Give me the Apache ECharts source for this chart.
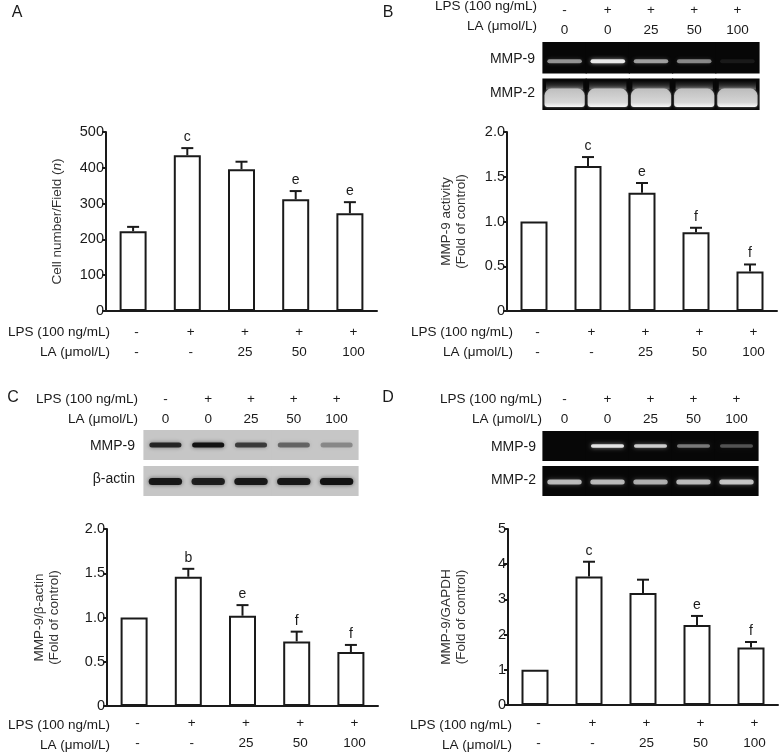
<!DOCTYPE html>
<html><head><meta charset="utf-8">
<script src="https://cdn.jsdelivr.net/npm/echarts@6/dist/echarts.min.js"></script>
<style>html,body{margin:0;padding:0;background:#fff}#c{width:781px;height:753px}</style>
</head><body><div id="c"></div>
<script>
// ---------- data ----------
const lpsSigns = ['-', '+', '+', '+', '+'];
const laChart = ['-', '-', '25', '50', '100'];
const laGel = ['0', '0', '25', '50', '100'];
const gelRowsB = ['MMP-9', 'MMP-2'];
const gelRowsC = ['MMP-9', 'β-actin'];
const gelRowsD = ['MMP-9', 'MMP-2'];

const cellMeans = [223, 435, 396, 312, 273];
const cellErrs = [12, 20, 21, 23, 31];
const cellLetters = ['', 'c', '', 'e', 'e'];
const cellAxis = [0, 500, 100];

const zymoMeans = [1.0, 1.62, 1.32, 0.88, 0.44];
const zymoErrs = [0, 0.10, 0.11, 0.05, 0.08];
const zymoLetters = ['', 'c', 'e', 'f', 'f'];
const foldAxis = [0, 2, 0.5];

const westMeans = [1.0, 1.46, 1.02, 0.73, 0.61];
const westErrs = [0, 0.09, 0.12, 0.11, 0.08];
const westLetters = ['', 'b', 'e', 'f', 'f'];

const pcrMeans = [1.0, 3.65, 3.18, 2.27, 1.63];
const pcrErrs = [0, 0.42, 0.38, 0.26, 0.16];
const pcrLetters = ['', 'c', '', 'e', 'f'];
const pcrAxis = [0, 5, 1];

// band intensities (0..1) per lane
const bandB9 = [0.55, 0.95, 0.6, 0.5, 0.08];
const bandB2 = [0.9, 0.92, 0.9, 0.9, 0.88];
const bandC9 = [0.85, 1.0, 0.72, 0.5, 0.32];
const bandCa = [0.95, 0.9, 0.95, 0.95, 1.0];
const bandD9 = [0, 0.92, 0.8, 0.45, 0.3];
const bandD2 = [0.7, 0.7, 0.65, 0.7, 0.75];

// ---------- helpers ----------
const FONT = 'Liberation Sans, Arial, sans-serif';
const INK = '#1a1a1a';
const xAxes = [], yAxes = [], grids = [], series = [], graphics = [];

function rowLabel(x, y, text) {
  graphics.push({type: 'text', silent: true, style: {text, x, y, align: 'right', verticalAlign: 'middle', fontSize: 13.5, fontFamily: FONT, fill: INK}});
}

function errRender(letters) {
  return function (params, api) {
    const i = api.value(0), m = api.value(1), e = api.value(2);
    const pb = api.coord([i, m]);
    const pt = api.coord([i, m + e]);
    const ch = [];
    if (e > 0) {
      ch.push({type: 'line', shape: {x1: pb[0], y1: pb[1], x2: pt[0], y2: pt[1]}, style: {stroke: INK, lineWidth: 2}});
      ch.push({type: 'line', shape: {x1: pt[0] - 6, y1: pt[1], x2: pt[0] + 6, y2: pt[1]}, style: {stroke: INK, lineWidth: 2}});
    }
    const L = letters[params.dataIndex];
    if (L) ch.push({type: 'text', style: {text: L, x: pt[0], y: pt[1] - 11, align: 'center', verticalAlign: 'middle', fontSize: 14, fontFamily: FONT, fill: INK}});
    return {type: 'group', children: ch};
  };
}

function addChart(cfg) {
  const gi = grids.length;
  grids.push(Object.assign({containLabel: false}, cfg.grid));
  const xi = xAxes.length, yi = yAxes.length;
  xAxes.push({
    type: 'category', gridIndex: gi,
    data: lpsSigns.map((s, i) => s + '\n' + laChart[i]),
    axisLine: {lineStyle: {color: INK, width: 2}},
    axisTick: {alignWithLabel: true, length: 5, lineStyle: {color: INK, width: 2}},
    axisLabel: {interval: 0, fontSize: 13.5, lineHeight: 20, margin: cfg.labelMargin, color: INK, fontFamily: FONT, padding: [0, 0, 0, 7]}
  });
  yAxes.push({
    type: 'value', gridIndex: gi, min: cfg.axis[0], max: cfg.axis[1], interval: cfg.axis[2],
    axisLine: {show: true, lineStyle: {color: INK, width: 2}},
    axisTick: {show: true, length: 4, lineStyle: {color: INK, width: 2}},
    splitLine: {show: false},
    axisLabel: {fontSize: 14.5, color: INK, margin: 2, fontFamily: FONT,
      formatter: v => (v === 0 ? '0' : (cfg.decimals ? v.toFixed(cfg.decimals) : String(v)))},
    name: cfg.name, nameLocation: 'middle', nameRotate: 90, nameGap: cfg.nameGap,
    nameTextStyle: {fontSize: 13.5, color: '#333', lineHeight: 15, fontFamily: FONT,
      rich: {it: {fontStyle: 'italic', fontSize: 13.5, color: '#333', fontFamily: FONT}}}
  });
  series.push({
    type: 'bar', xAxisIndex: xi, yAxisIndex: yi, data: cfg.means, barWidth: 27, silent: true,
    itemStyle: {color: '#fff', borderColor: INK, borderWidth: 2}, z: 2
  });
  series.push({
    type: 'custom', xAxisIndex: xi, yAxisIndex: yi, silent: true, z: 3,
    data: cfg.means.map((m, i) => [i, m, cfg.errs[i]]),
    encode: {x: 0, y: 1},
    renderItem: errRender(cfg.letters)
  });
  rowLabel(cfg.rowX, cfg.rowY[0], 'LPS (100 ng/mL)');
  rowLabel(cfg.rowX, cfg.rowY[1], 'LA (μmol/L)');
}

function gelRender(cfg) {
  return function (params, api) {
    const lane = api.value(0), row = api.value(1), v = api.value(2);
    const c = api.coord([lane, row]);
    const sz = api.size([1, 1]);
    const w = sz[0], h = sz[1];
    let top = c[1] - h / 2, bot = c[1] + h / 2;
    if (row === 0) bot -= cfg.gap / 2; else top += cfg.gap / 2;
    const ch = [{type: 'rect', shape: {x: c[0] - w / 2 - 0.6, y: top, width: w + 1.2, height: bot - top}, style: {fill: cfg.bg}}];
    const rs = cfg.rows[row];
    const cy = (top + bot) / 2 + rs.dy;
    if (rs.kind === 'blob') {
      const bt = top + (bot - top) * 0.32, bb = bot - 3;
      ch.push({type: 'rect', shape: {x: c[0] - w / 2 + 3, y: top + 2, width: w - 6, height: bt - top - 1},
        style: {fill: new echarts.graphic.LinearGradient(0, 0, 0, 1, [{offset: 0, color: 'rgba(80,80,80,0)'}, {offset: 1, color: 'rgba(140,140,140,0.7)'}])}});
      ch.push({type: 'rect', shape: {x: c[0] - w / 2 + 1.5, y: bt, width: w - 3, height: bb - bt, r: [7, 7, 3, 3]},
        style: {fill: new echarts.graphic.LinearGradient(0, 0, 0, 1, [
          {offset: 0, color: 'rgba(200,200,200,' + v + ')'},
          {offset: 0.75, color: 'rgba(226,226,226,' + v + ')'},
          {offset: 1, color: 'rgba(250,250,250,1)'}]),
          shadowBlur: 3, shadowColor: 'rgba(200,200,200,0.6)'}});
    } else if (v > 0) {
      const bw = w * rs.bw, bh = rs.bh;
      const col = cfg.light ? 'rgba(242,242,242,' + v + ')' : 'rgba(18,18,18,' + v + ')';
      const sh = cfg.light ? 'rgba(200,200,200,' + (v * 0.8) + ')' : 'rgba(40,40,40,' + (v * 0.7) + ')';
      ch.push({type: 'rect', shape: {x: c[0] - bw / 2, y: cy - bh / 2, width: bw, height: bh, r: bh / 2},
        style: {fill: col, shadowBlur: 4, shadowColor: sh}});
    }
    return {type: 'group', children: ch};
  };
}

function addGel(cfg) {
  const gi = grids.length;
  grids.push(Object.assign({containLabel: false}, cfg.grid));
  const xi = xAxes.length, yi = yAxes.length;
  xAxes.push({
    type: 'category', gridIndex: gi, position: 'top',
    data: lpsSigns.map((s, i) => s + '\n' + laGel[i]),
    axisLine: {show: false}, axisTick: {show: false},
    axisLabel: {interval: 0, fontSize: 13.5, lineHeight: 20, margin: cfg.headMargin, color: INK, fontFamily: FONT}
  });
  yAxes.push({
    type: 'category', gridIndex: gi, inverse: true, data: cfg.rowNames,
    axisLine: {show: false}, axisTick: {show: false}, splitLine: {show: false},
    axisLabel: {fontSize: 14, color: INK, margin: cfg.nameMargin, fontFamily: FONT}
  });
  const data = [];
  cfg.bands.forEach((arr, r) => arr.forEach((v, l) => data.push([l, r, v])));
  series.push({
    type: 'custom', xAxisIndex: xi, yAxisIndex: yi, silent: true, data,
    encode: {x: 0, y: 1}, renderItem: gelRender(cfg)
  });
  rowLabel(cfg.headX, cfg.headY[0], 'LPS (100 ng/mL)');
  rowLabel(cfg.headX, cfg.headY[1], 'LA (μmol/L)');
}

// ---------- panel A ----------
addChart({grid: {left: 106, top: 132, width: 271, height: 179}, axis: cellAxis, decimals: 0,
  means: cellMeans, errs: cellErrs, letters: cellLetters, labelMargin: 11,
  name: 'Cell number/Field ({it|n})', nameGap: 41, rowX: 110, rowY: [332, 352]});

// ---------- panel B ----------
addGel({grid: {left: 543, top: 38, width: 216, height: 72}, rowNames: gelRowsB, gap: 5, bg: '#070707', light: true,
  bands: [bandB9, bandB2], rows: [{kind: 'band', dy: 3.5, bh: 4, bw: 0.8}, {kind: 'blob', dy: 0}],
  headMargin: 2, nameMargin: 8, headX: 537, headY: [6, 26]});
addChart({grid: {left: 507, top: 132, width: 270, height: 179}, axis: foldAxis, decimals: 1,
  means: zymoMeans, errs: zymoErrs, letters: zymoLetters, labelMargin: 11,
  name: 'MMP-9 activity\n(Fold of control)', nameGap: 38, rowX: 513, rowY: [332, 352]});

// ---------- panel C ----------
addGel({grid: {left: 144, top: 430, width: 214, height: 66}, rowNames: gelRowsC, gap: 6, bg: '#c6c6c6', light: false,
  bands: [bandC9, bandCa], rows: [{kind: 'band', dy: 0, bh: 5, bw: 0.75}, {kind: 'band', dy: 0.5, bh: 7, bw: 0.78}],
  headMargin: 1, nameMargin: 9, headX: 138, headY: [399, 419]});
addChart({grid: {left: 107, top: 529, width: 271, height: 179}, axis: foldAxis, decimals: 1,
  means: westMeans, errs: westErrs, letters: westLetters, labelMargin: 7,
  name: 'MMP-9/β-actin\n(Fold of control)', nameGap: 45, rowX: 110, rowY: [725, 745]});

// ---------- panel D ----------
addGel({grid: {left: 543, top: 431, width: 215, height: 65}, rowNames: gelRowsD, gap: 5, bg: '#070707', light: true,
  bands: [bandD9, bandD2], rows: [{kind: 'band', dy: 0, bh: 3.5, bw: 0.77}, {kind: 'band', dy: 1, bh: 5, bw: 0.8}],
  headMargin: 2, nameMargin: 7, headX: 542, headY: [399, 419]});
addChart({grid: {left: 508, top: 529, width: 270, height: 178}, axis: pcrAxis, decimals: 0,
  means: pcrMeans, errs: pcrErrs, letters: pcrLetters, labelMargin: 8,
  name: 'MMP-9/GAPDH\n(Fold of control)', nameGap: 39, rowX: 512, rowY: [725, 745]});

// panel letters
[['A', 17, 13], ['B', 388, 13], ['C', 13, 398], ['D', 388, 398]].forEach(p => {
  graphics.push({type: 'text', silent: true, style: {text: p[0], x: p[1], y: p[2], align: 'center', verticalAlign: 'middle', fontSize: 16, fontFamily: FONT, fill: INK}});
});

const chart = echarts.init(document.getElementById('c'), null, {renderer: 'canvas'});
chart.setOption({
  animation: false,
  backgroundColor: '#fff',
  textStyle: {fontFamily: FONT},
  grid: grids, xAxis: xAxes, yAxis: yAxes, series,
  graphic: {elements: graphics}
});
</script></body></html>
